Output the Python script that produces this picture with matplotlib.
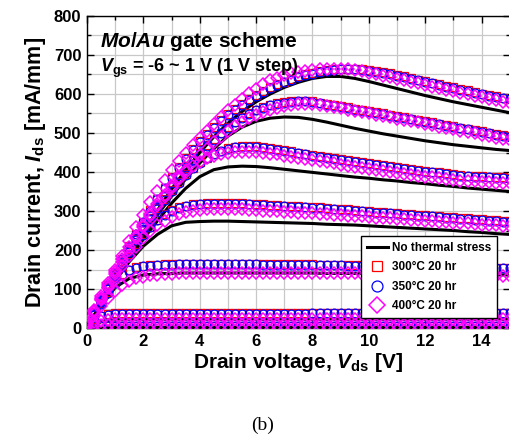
import numpy as np
import matplotlib
matplotlib.use("Agg")
import matplotlib.pyplot as plt
from matplotlib.ticker import MultipleLocator

plt.rcParams['font.family'] = ['Liberation Sans', 'DejaVu Sans']
plt.rcParams['font.weight'] = 'bold'
plt.rcParams['axes.labelweight'] = 'bold'
plt.rcParams['mathtext.fontset'] = 'custom'
plt.rcParams['mathtext.it'] = 'Liberation Sans:italic:bold'
plt.rcParams['mathtext.rm'] = 'Liberation Sans:bold'
plt.rcParams['mathtext.bf'] = 'Liberation Sans:bold'

# Vds steps: black lines every 0.5 V, stressed data every 0.25 V
STEP_LINE = 0.5
STEP_MARK = 0.25

# no thermal stress, Vgs = -6 ... 0 V  (mA/mm)
ref_m6 = [0, 1, 2, 2, 2, 2, 2, 2, 2, 2, 2, 2, 2, 2, 2, 2, 2, 2, 2, 2,
          2, 2, 2, 2, 2, 2, 2, 2, 2, 2, 2]
ref_m5 = [0, 16, 21, 22, 22, 22, 22, 22, 22, 22, 22, 22, 22, 22, 22, 22, 22, 22, 22, 22,
          22, 22, 22, 22, 22, 22, 22, 22, 22, 22, 22]
ref_m4 = [0, 56, 104, 127, 136, 139, 140, 141, 141, 141, 141, 141, 141, 141, 141, 141,
          141, 140, 140, 140, 140, 140, 139, 139, 139, 138, 138, 137, 137, 136, 136]
ref_m3 = [0, 62, 120, 170, 210, 240, 262, 271, 273, 274, 274, 273, 272, 271, 270, 269,
          268, 266, 265, 264, 262, 260, 258, 256, 254, 252, 250, 247, 245, 242, 240]
ref_m2 = [0, 62, 122, 178, 228, 275, 320, 358, 388, 406, 413, 415, 414, 411, 407, 403,
          399, 395, 391, 387, 384, 380, 377, 373, 370, 366, 363, 359, 356, 353, 350]
ref_m1 = [0, 62, 123, 182, 238, 290, 338, 382, 423, 460, 492, 515, 530, 538, 541, 540,
          535, 528, 520, 512, 505, 498, 492, 486, 480, 475, 470, 466, 462, 458, 455]
ref_0 = [0, 63, 125, 186, 245, 302, 356, 405, 450, 490, 525, 555, 580, 600, 617, 630,
         640, 645, 645, 640, 632, 623, 614, 605, 596, 588, 580, 573, 566, 559, 552]

# 300 C 20 hr
t300_m6 = [2, 4, 5, 6, 6, 6, 6, 6, 6, 6, 6, 6, 6, 6, 6, 6,
           6, 6, 6, 6, 6, 6, 6, 6, 6, 6, 6, 6, 6, 6, 6, 6,
           6, 6, 6, 6, 6, 6, 6, 6, 6, 6, 6, 6, 6, 6, 6, 6,
           6, 6, 6, 6, 6, 6, 6, 6, 6, 6, 6, 6, 6]
t300_m5 = [5, 22, 32, 36, 38, 39, 39, 39, 39, 39, 39, 39, 39, 39, 39, 39,
           39, 39, 39, 39, 39, 39, 39, 39, 39, 39, 39, 39, 39, 39, 39, 39,
           39, 39, 39, 39, 39, 39, 39, 39, 39, 39, 39, 39, 39, 39, 39, 39,
           39, 39, 39, 39, 39, 39, 39, 39, 39, 39, 39, 39, 39]
t300_m4 = [5, 34, 64, 92, 118, 138, 150, 156, 159, 161, 162, 163, 163, 164, 164, 164,
           164, 164, 164, 164, 164, 164, 164, 164, 164, 163, 163, 163, 163, 163, 163, 163,
           163, 162, 162, 162, 162, 161, 161, 161, 161, 160, 160, 160, 160, 159, 159, 159,
           158, 158, 158, 157, 157, 157, 156, 156, 156, 155, 155, 154, 154]
t300_m3 = [5, 36, 68, 100, 131, 161, 190, 216, 240, 260, 278, 293, 303, 310, 314, 317,
           319, 320, 321, 321, 321, 321, 320, 319, 318, 317, 316, 315, 314, 313, 312, 311,
           310, 309, 307, 306, 305, 304, 302, 301, 300, 298, 297, 296, 294, 293, 292, 290,
           289, 288, 286, 285, 284, 282, 281, 280, 279, 277, 276, 275, 274]
t300_m2 = [5, 37, 70, 103, 136, 167, 197, 227, 255, 282, 307, 331, 354, 375, 394, 411,
           425, 437, 447, 455, 461, 465, 467, 467, 466, 464, 462, 459, 456, 453, 450, 447,
           444, 441, 439, 436, 433, 430, 428, 425, 422, 420, 417, 415, 412, 410, 407, 405,
           403, 401, 399, 397, 395, 393, 391, 390, 389, 388, 387, 386, 385]
t300_m1 = [5, 39, 74, 106, 139, 171, 202, 232, 261, 289, 316, 341, 365, 388, 410, 430,
           450, 468, 485, 501, 516, 529, 541, 551, 560, 567, 573, 577, 580, 582, 583, 583,
           581, 578, 575, 572, 569, 566, 562, 559, 556, 553, 550, 546, 543, 540, 537, 533,
           530, 527, 524, 521, 517, 514, 511, 508, 505, 501, 498, 495, 492]
t300_0 = [5, 40, 76, 111, 144, 178, 210, 242, 273, 303, 332, 360, 387, 412, 436, 458,
          479, 498, 516, 533, 548, 562, 575, 587, 598, 608, 617, 625, 632, 639, 645, 650,
          654, 658, 661, 663, 665, 665, 665, 664, 662, 659, 656, 653, 649, 645, 641, 637,
          633, 629, 625, 621, 617, 613, 609, 605, 601, 598, 595, 591, 588]

# 350 C 20 hr
t350_m6 = [2, 4, 5, 5, 5, 5, 5, 5, 5, 5, 5, 5, 5, 5, 5, 5,
           5, 5, 5, 5, 5, 5, 5, 5, 5, 5, 5, 5, 5, 5, 5, 5,
           5, 5, 5, 5, 5, 5, 5, 5, 5, 5, 5, 5, 5, 5, 5, 5,
           5, 5, 5, 5, 5, 5, 5, 5, 5, 5, 5, 5, 5]
t350_m5 = [4, 20, 30, 34, 36, 37, 37, 37, 37, 37, 37, 37, 37, 37, 37, 37,
           37, 37, 37, 37, 37, 37, 37, 37, 37, 37, 37, 37, 37, 37, 37, 37,
           38, 38, 38, 38, 38, 38, 38, 38, 38, 38, 38, 38, 38, 38, 38, 38,
           38, 38, 38, 38, 38, 38, 38, 38, 38, 38, 38, 38, 38]
t350_m4 = [4, 33, 62, 90, 116, 136, 148, 154, 158, 160, 161, 162, 162, 163, 163, 163,
           163, 163, 163, 163, 163, 163, 163, 163, 163, 162, 162, 162, 162, 162, 162, 162,
           162, 161, 161, 161, 161, 160, 160, 160, 160, 159, 159, 159, 159, 158, 158, 158,
           157, 157, 157, 156, 156, 156, 155, 155, 155, 154, 154, 153, 153]
t350_m3 = [4, 35, 67, 99, 129, 159, 188, 214, 238, 258, 276, 291, 301, 308, 312, 315,
           317, 318, 319, 319, 319, 319, 318, 317, 316, 315, 314, 313, 312, 311, 310, 309,
           308, 307, 305, 304, 303, 302, 300, 299, 298, 296, 295, 294, 292, 291, 290, 288,
           287, 286, 284, 283, 282, 280, 279, 278, 277, 275, 274, 273, 272]
t350_m2 = [4, 36, 69, 101, 134, 165, 195, 225, 253, 280, 305, 329, 352, 373, 392, 409,
           423, 435, 445, 453, 459, 463, 465, 465, 464, 462, 460, 457, 454, 451, 448, 445,
           442, 439, 437, 434, 431, 428, 426, 423, 420, 418, 415, 413, 410, 408, 405, 403,
           401, 399, 397, 395, 393, 391, 389, 388, 387, 386, 385, 384, 383]
t350_m1 = [4, 38, 72, 104, 137, 169, 200, 230, 259, 287, 314, 339, 363, 386, 408, 428,
           448, 466, 483, 499, 514, 527, 539, 549, 558, 565, 571, 575, 578, 580, 581, 581,
           579, 576, 573, 570, 567, 564, 560, 557, 554, 551, 548, 544, 541, 538, 535, 531,
           528, 525, 522, 519, 515, 512, 509, 506, 503, 499, 496, 493, 490]
t350_0 = [4, 39, 74, 109, 142, 176, 208, 240, 271, 301, 330, 358, 385, 410, 434, 456,
          477, 496, 514, 531, 546, 560, 573, 585, 596, 606, 615, 623, 630, 637, 643, 648,
          652, 656, 659, 661, 663, 663, 663, 662, 660, 657, 654, 651, 647, 643, 639, 635,
          631, 627, 623, 619, 615, 611, 607, 603, 599, 596, 593, 589, 586]

# 400 C 20 hr
t400_m6 = [5, 7, 8, 8, 8, 8, 8, 8, 8, 8, 8, 8, 8, 8, 8, 8,
           8, 8, 8, 8, 8, 8, 8, 8, 8, 8, 8, 8, 8, 8, 8, 8,
           8, 8, 8, 8, 8, 8, 8, 8, 8, 8, 8, 8, 8, 8, 8, 8,
           8, 8, 8, 8, 8, 8, 8, 8, 8, 8, 8, 8, 8]
t400_m5 = [10, 16, 19, 21, 22, 22, 22, 22, 22, 22, 22, 22, 22, 22, 22, 22,
           22, 22, 22, 22, 22, 22, 22, 22, 22, 22, 22, 22, 22, 22, 22, 22,
           22, 22, 22, 22, 22, 22, 22, 22, 22, 22, 22, 22, 22, 22, 22, 22,
           22, 22, 22, 22, 22, 22, 22, 22, 22, 22, 22, 22, 22]
t400_m4 = [15, 35, 56, 76, 95, 110, 121, 128, 132, 135, 137, 138, 139, 140, 140, 141,
           141, 141, 141, 141, 141, 141, 141, 141, 141, 141, 141, 141, 141, 141, 141, 141,
           141, 141, 140, 140, 140, 140, 140, 139, 139, 139, 139, 138, 138, 138, 138, 137,
           137, 137, 136, 136, 136, 135, 135, 135, 134, 134, 134, 133, 133]
t400_m3 = [15, 43, 73, 103, 131, 158, 184, 208, 230, 248, 263, 275, 285, 292, 297, 300,
           302, 304, 305, 305, 305, 305, 304, 303, 302, 301, 300, 299, 298, 297, 296, 295,
           294, 293, 292, 290, 289, 288, 287, 286, 285, 283, 282, 281, 280, 279, 277, 276,
           275, 274, 273, 271, 270, 269, 268, 267, 265, 264, 263, 262, 261]
t400_m2 = [15, 42, 74, 106, 138, 170, 201, 231, 260, 287, 313, 337, 360, 381, 399, 415,
           426, 435, 442, 447, 450, 452, 452, 452, 451, 449, 447, 445, 442, 439, 436, 433,
           430, 428, 425, 422, 419, 416, 413, 410, 408, 405, 402, 400, 397, 395, 393, 390,
           388, 386, 384, 382, 380, 378, 377, 376, 375, 374, 373, 372, 371]
t400_m1 = [15, 44, 78, 111, 144, 176, 207, 237, 265, 292, 318, 342, 365, 386, 406, 425,
           443, 460, 476, 491, 505, 517, 528, 538, 547, 554, 560, 565, 569, 572, 574, 575,
           574, 572, 569, 566, 563, 560, 557, 553, 550, 547, 543, 540, 537, 533, 530, 527,
           523, 520, 516, 513, 509, 506, 502, 499, 495, 492, 488, 485, 481]
t400_0 = [15, 47, 82, 115, 148, 185, 222, 258, 290, 322, 352, 380, 405, 428, 448, 468,
          487, 505, 523, 541, 558, 573, 588, 602, 614, 625, 635, 642, 648, 653, 657, 660,
          662, 663, 664, 664, 664, 663, 661, 658, 655, 651, 647, 643, 639, 635, 631, 627,
          623, 619, 615, 611, 607, 603, 600, 596, 592, 588, 584, 580, 577]

ref_curves = [ref_m6, ref_m5, ref_m4, ref_m3, ref_m2, ref_m1, ref_0]
t300_curves = [t300_m6, t300_m5, t300_m4, t300_m3, t300_m2, t300_m1, t300_0]
t350_curves = [t350_m6, t350_m5, t350_m4, t350_m3, t350_m2, t350_m1, t350_0]
t400_curves = [t400_m6, t400_m5, t400_m4, t400_m3, t400_m2, t400_m1, t400_0]

fig = plt.figure(figsize=(5.10, 4.37), dpi=100)
ax = fig.add_axes([0.1706, 0.2494, 0.829, 0.714])

for i, y in enumerate(ref_curves):
    x = np.arange(len(y)) * STEP_LINE
    ax.plot(x, y, color='black', lw=2.2, zorder=3,
            label='No thermal stress' if i == 0 else None)

groups = [
    (t300_curves, 's', 'red', 5.6, 0.9, '300°C 20 hr'),
    (t350_curves, 'o', 'blue', 6.3, 0.9, '350°C 20 hr'),
    (t400_curves, 'D', 'magenta', 6.3, 1.1, '400°C 20 hr'),
]
for z, (curves, mk, col, ms, mw, lab) in enumerate(groups):
    for i, y in enumerate(curves):
        x = np.arange(len(y)) * STEP_MARK
        ax.plot(x, y, ls='none', marker=mk, ms=ms, mfc='none', mec=col,
                mew=mw, zorder=4 + z, label=lab if i == 0 else None)

ax.set_xlim(0, 15)
ax.set_ylim(0, 800)
ax.xaxis.set_major_locator(MultipleLocator(2))
ax.xaxis.set_minor_locator(MultipleLocator(1))
ax.yaxis.set_major_locator(MultipleLocator(100))
ax.yaxis.set_minor_locator(MultipleLocator(50))
ax.grid(True, which='both', color='#c8c8c8', lw=0.9, zorder=0)
ax.set_axisbelow(True)
ax.tick_params(which='both', direction='in', top=True, right=True, width=1)
ax.tick_params(which='major', length=5, labelsize=12, pad=4)
ax.tick_params(which='minor', length=3)
for sp in ax.spines.values():
    sp.set_linewidth(1.0)

ax.set_xlabel(r'Drain voltage, $\mathit{V}_{\mathrm{ds}}$ [V]', fontsize=15, labelpad=2)
ax.set_ylabel(r'Drain current, $\mathit{I}_{\mathrm{ds}}$ [mA/mm]', fontsize=15.5, labelpad=4)

ax.text(0.031, 0.902, r'$\mathit{Mo/Au}$ gate scheme', transform=ax.transAxes,
        fontsize=15, va='baseline', ha='left', zorder=10)
ax.text(0.031, 0.822, r'$\mathit{V}_{\mathrm{gs}}$ = -6 ~ 1 V (1 V step)',
        transform=ax.transAxes, fontsize=13, va='baseline', ha='left', zorder=10)

leg = ax.legend(loc='lower right', bbox_to_anchor=(0.969, 0.032), fontsize=8.5,
                frameon=True, fancybox=False, edgecolor='black', framealpha=1,
                handlelength=1.8, handletextpad=0.3, labelspacing=0.62,
                borderpad=0.5, borderaxespad=0, markerscale=1.25)
leg.get_frame().set_linewidth(1.0)
leg.set_zorder(20)

fig.text(263 / 510, 0.016, '(b)', family='Liberation Serif', fontweight='normal',
         fontsize=14, ha='center', va='baseline')

fig.savefig('out.png', dpi=100)
